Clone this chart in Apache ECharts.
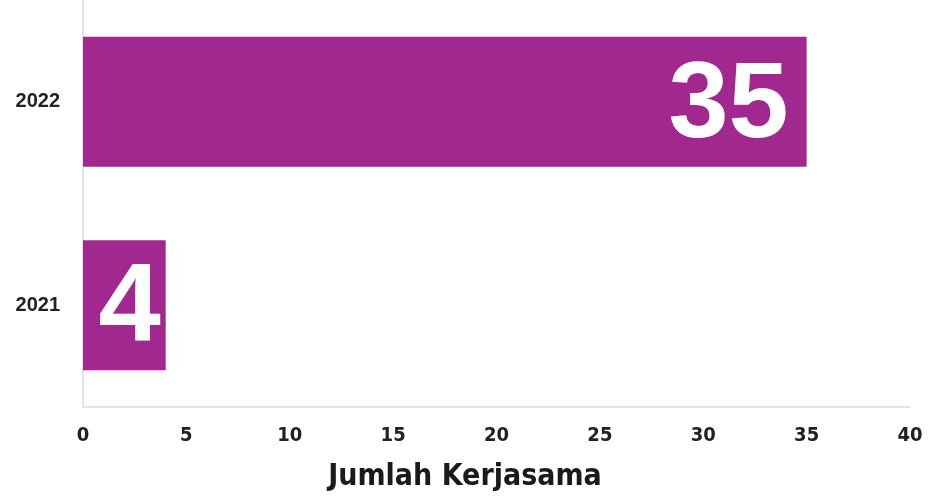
<!DOCTYPE html>
<html>
<head>
<meta charset="utf-8">
<script src="https://cdn.jsdelivr.net/npm/echarts@6/dist/echarts.min.js"></script>
<style>html,body{margin:0;padding:0;background:#fff}#c{width:930px;height:497px}</style>
</head>
<body>
<div id="c"></div>
<script>
const categories = ['2021', '2022'];
const values = [4, 35];
const xTicks = [0, 5, 10, 15, 20, 25, 30, 35, 40];
const axisTitle = 'Jumlah Kerjasama';

const chart = echarts.init(document.getElementById('c'));
const narrow = '"Liberation Sans Narrow", "DejaVu Sans Condensed", "Liberation Sans", sans-serif';
chart.setOption({
  animation: false,
  title: {
    text: axisTitle,
    left: 'center',
    top: 457,
    textStyle: { fontFamily: narrow, fontWeight: 'bold', fontSize: 30, color: '#1a1a1a' }
  },
  grid: { left: 83, right: 20, top: -2, bottom: 90 },
  xAxis: {
    type: 'value',
    min: xTicks[0],
    max: xTicks[xTicks.length - 1],
    interval: 5,
    axisLine: { show: true, lineStyle: { color: '#e4e4e4', width: 2 } },
    axisTick: { show: false },
    splitLine: { show: false },
    axisLabel: { margin: 19, fontFamily: narrow, fontWeight: 'bold', fontSize: 20, color: '#222' }
  },
  yAxis: {
    type: 'category',
    data: categories,
    axisLine: { show: true, lineStyle: { color: '#e4e4e4', width: 2 } },
    axisTick: { show: false },
    axisLabel: { margin: 23, fontFamily: '"Liberation Sans", Arial, sans-serif', fontWeight: 'bold', fontSize: 20, color: '#222' }
  },
  series: [{
    type: 'bar',
    data: values.map((v, i) => ({
      value: v,
      label: { distance: i === 0 ? 5 : 18, fontSize: i === 0 ? 112 : 108 }
    })),
    barWidth: 130,
    itemStyle: { color: '#A0288F' },
    label: {
      show: true,
      position: 'insideRight',
      offset: [0, 5],
      color: '#fff',
      fontFamily: '"Liberation Sans", Arial, sans-serif',
      fontWeight: 'bold',
      fontSize: 108
    }
  }]
});
</script>
</body>
</html>
